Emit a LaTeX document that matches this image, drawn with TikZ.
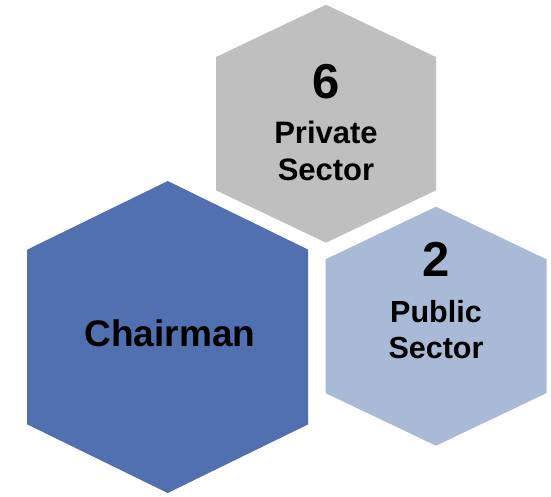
\documentclass[tikz,border=0pt]{standalone}
\usepackage{fontspec}
\setmainfont{Liberation Sans}
\usetikzlibrary{positioning}

\definecolor{chairblue}{RGB}{80,112,175}
\definecolor{privgray}{RGB}{191,191,191}
\definecolor{publblue}{RGB}{169,186,214}

% hexagon with a corner at top: centre, half width, half height, colour
\newcommand{\hexa}[4]{\fill[#4, shift={(#1)}] (0,-#3) -- (#2,-0.56*#3) -- (#2,0.56*#3)
  -- (0,#3) -- (-#2,0.56*#3) -- (-#2,-0.56*#3) -- cycle;}

\begin{document}
\begin{tikzpicture}[x=1pt, y=-1pt, inner sep=0pt,
    count/.style={font=\bfseries\fontsize{49}{56}\selectfont, anchor=base},
    sector/.style={font=\bfseries\fontsize{31}{37}\selectfont, align=center, anchor=base}]
   \useasboundingbox (0,0) rectangle (551,496);

   % the three cells
   \hexa{326,123.7}{110}{119}{privgray}
   \hexa{436,326.2}{110.5}{119.5}{publblue}
   \hexa{167.7,337}{140.5}{156}{chairblue}

   \node[font=\bfseries\fontsize{37}{44}\selectfont, anchor=base] (chair) at (170,346.7) {Chairman};

   \node[count] (six) at (326,98.3) {6};
   \node[sector] (private) at (326,180) {Private\\Sector};

   \node[count] (two) at (436,276.7) {2};
   \node[sector, font=\bfseries\fontsize{30.5}{35.6}\selectfont] (public) at (436,358.3) {Public\\Sector};
\end{tikzpicture}
\end{document}
